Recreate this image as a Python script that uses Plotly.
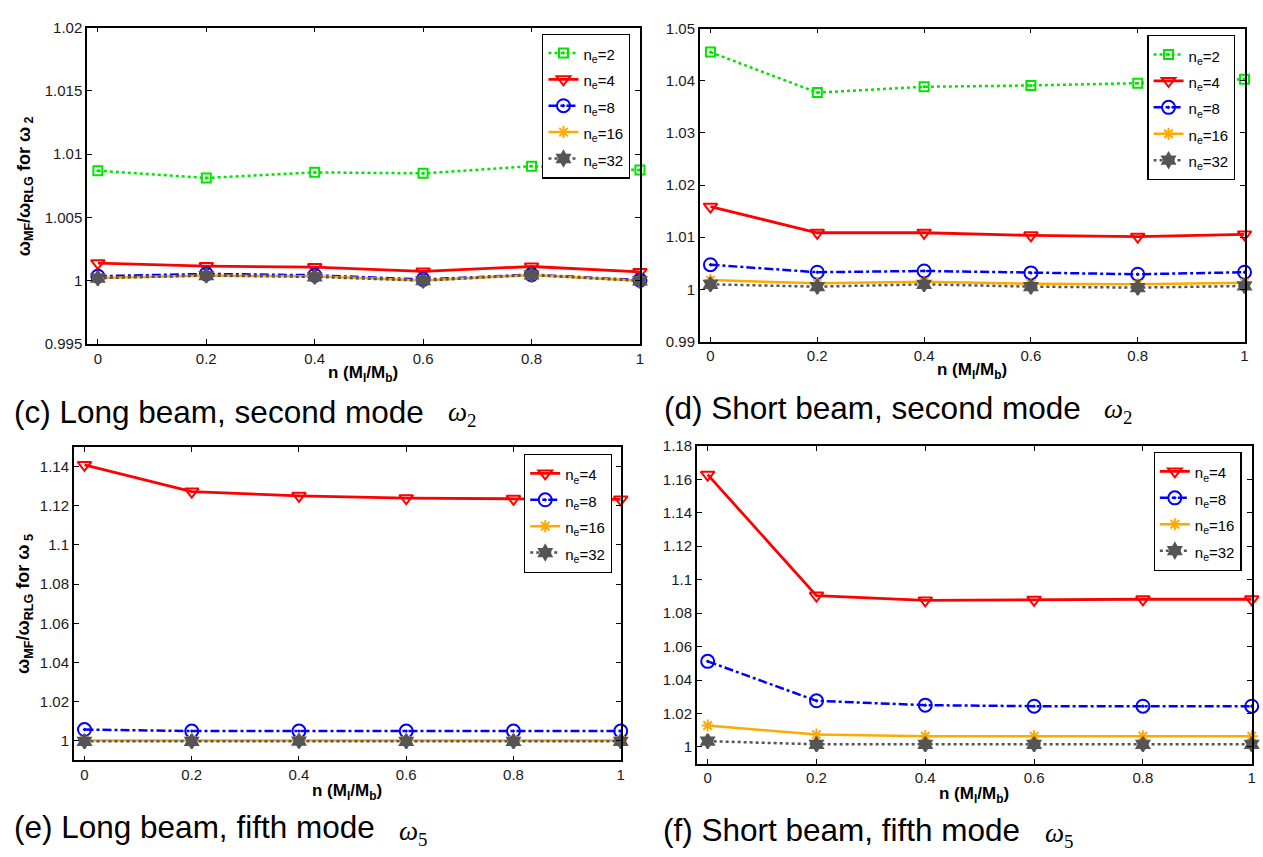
import plotly.graph_objects as go

# ---------------- data ----------------
n_vals = [0, 0.2, 0.4, 0.6, 0.8, 1]
x_ticks = [0, 0.2, 0.4, 0.6, 0.8, 1]
x_ticktext = ["0", "0.2", "0.4", "0.6", "0.8", "1"]

# (c) Long beam, second mode
c_ne2 = [1.00869, 1.00812, 1.00856, 1.00848, 1.00905, 1.00874]
c_ne4 = [1.00138, 1.00115, 1.00107, 1.00073, 1.00112, 1.00069]
c_ne8 = [1.00035, 1.00053, 1.00043, 1.00009, 1.00048, 1.00004]
c_ne16 = [1.00022, 1.00040, 1.00035, 1.00002, 1.00045, 1.00000]
c_ne32 = [1.00020, 1.00040, 1.00030, 1.00000, 1.00045, 0.99998]
c_yticks = [0.995, 1.0, 1.005, 1.01, 1.015, 1.02]
c_yticktext = ["0.995", "1", "1.005", "1.01", "1.015", "1.02"]

# (d) Short beam, second mode
d_ne2 = [1.04549, 1.03773, 1.03885, 1.03910, 1.03954, 1.04029]
d_ne4 = [1.01587, 1.01086, 1.01086, 1.01036, 1.01011, 1.01055]
d_ne8 = [1.00473, 1.00329, 1.00354, 1.00316, 1.00291, 1.00329]
d_ne16 = [1.00178, 1.00116, 1.00147, 1.00110, 1.00097, 1.00128]
d_ne32 = [1.00097, 1.00053, 1.00097, 1.00053, 1.00034, 1.00066]
d_yticks = [0.99, 1.0, 1.01, 1.02, 1.03, 1.04, 1.05]
d_yticktext = ["0.99", "1", "1.01", "1.02", "1.03", "1.04", "1.05"]

# (e) Long beam, fifth mode
e_ne4 = [1.1408, 1.1272, 1.1250, 1.1238, 1.1235, 1.1232]
e_ne8 = [1.0058, 1.0050, 1.0050, 1.0050, 1.0050, 1.0050]
e_ne16 = [1.0002, 1.0002, 1.0002, 1.0002, 1.0002, 1.0002]
e_ne32 = [0.9998, 0.9998, 0.9999, 0.9998, 0.9998, 0.9998]
e_yticks = [1.0, 1.02, 1.04, 1.06, 1.08, 1.1, 1.12, 1.14]
e_yticktext = ["1", "1.02", "1.04", "1.06", "1.08", "1.1", "1.12", "1.14"]

# (f) Short beam, fifth mode
f_ne4 = [1.1628, 1.0905, 1.0876, 1.0880, 1.0883, 1.0883]
f_ne8 = [1.0512, 1.0276, 1.0250, 1.0244, 1.0244, 1.0244]
f_ne16 = [1.0129, 1.0074, 1.0064, 1.0064, 1.0064, 1.0064]
f_ne32 = [1.0035, 1.0016, 1.0016, 1.0016, 1.0016, 1.0016]
f_yticks = [1.0, 1.02, 1.04, 1.06, 1.08, 1.1, 1.12, 1.14, 1.16, 1.18]
f_yticktext = ["1", "1.02", "1.04", "1.06", "1.08", "1.1", "1.12", "1.14", "1.16", "1.18"]

# ---------------- layout helpers ----------------
W, H = 1263, 857


def px(x):
    return x / W


def py(y):
    return 1 - y / H


SANS = "Arial, 'Liberation Sans', sans-serif"
SERIF = "'Times New Roman', 'Liberation Serif', serif"

styles = {
    2: dict(color="#00E400", dash="dot", symbol="square-open-dot", size=9, lw=2.5),
    4: dict(color="#FF0000", dash="solid", symbol="triangle-down-open", size=12, lw=2.8),
    8: dict(color="#0000FF", dash="dashdot", symbol="circle-open-dot", size=13, lw=2.5),
    16: dict(color="#FFAA00", dash="solid", symbol="asterisk-open", size=10, lw=2.5),
    32: dict(color="#555555", dash="dot", symbol="hexagram", size=11, lw=2.5),
}

fig = go.Figure()


def add_series(y, ne, axis_idx, legend_name):
    s = styles[ne]
    sfx = "" if axis_idx == 1 else str(axis_idx)
    mk = dict(symbol=s["symbol"], size=s["size"], color=s["color"],
              line=dict(color=s["color"], width=2))
    fig.add_trace(go.Scatter(
        x=n_vals, y=y, mode="lines+markers",
        name='<span style="font-size:15px">n<sub>e</sub>=%d</span>' % ne,
        line=dict(color=s["color"], dash=s["dash"], width=s["lw"]),
        marker=mk, cliponaxis=False,
        xaxis="x" + sfx, yaxis="y" + sfx, legend=legend_name,
    ))


for y, ne in [(c_ne2, 2), (c_ne4, 4), (c_ne8, 8), (c_ne16, 16), (c_ne32, 32)]:
    add_series(y, ne, 1, "legend")
for y, ne in [(d_ne2, 2), (d_ne4, 4), (d_ne8, 8), (d_ne16, 16), (d_ne32, 32)]:
    add_series(y, ne, 2, "legend2")
for y, ne in [(e_ne4, 4), (e_ne8, 8), (e_ne16, 16), (e_ne32, 32)]:
    add_series(y, ne, 3, "legend3")
for y, ne in [(f_ne4, 4), (f_ne8, 8), (f_ne16, 16), (f_ne32, 32)]:
    add_series(y, ne, 4, "legend4")

# panel pixel boxes: (left, right, top, bottom)
boxes = {
    1: (87.3, 642.0, 19.0, 341.7),
    2: (702.0, 1248.5, 20.0, 339.3),
    3: (74.0, 622.7, 446.7, 766.7),
    4: (699.0, 1255.7, 445.7, 770.0),
}
yranges = {1: [0.995, 1.02], 2: [0.99, 1.05], 3: [0.99, 1.15], 4: [0.99, 1.18]}
yt = {1: (c_yticks, c_yticktext), 2: (d_yticks, d_yticktext),
      3: (e_yticks, e_yticktext), 4: (f_yticks, f_yticktext)}

axis_common = dict(showline=True, linecolor="black", linewidth=1.5, mirror="ticks",
                   ticks="inside", ticklen=5, tickwidth=1, tickcolor="black",
                   showgrid=False, zeroline=False,
                   tickfont=dict(family=SANS, size=15, color="#1a1a1a"))

layout = dict(width=W, height=H, margin=dict(l=0, r=0, t=0, b=0),
              paper_bgcolor="white", plot_bgcolor="white", showlegend=True)

for i in range(1, 5):
    l, r, t, b = boxes[i]
    sfx = "" if i == 1 else str(i)
    layout["xaxis" + sfx] = dict(axis_common, domain=[px(l), px(r)], range=[-0.02, 1],
                                 tickvals=x_ticks, ticktext=x_ticktext,
                                 anchor="y" + sfx)
    layout["yaxis" + sfx] = dict(axis_common, domain=[py(b), py(t)], range=yranges[i],
                                 tickvals=yt[i][0], ticktext=yt[i][1],
                                 anchor="x" + sfx)

legend_common = dict(bgcolor="white", bordercolor="black", borderwidth=1.2,
                     font=dict(family=SANS, size=18, color="black"),
                     xanchor="left", yanchor="top", itemclick=False,
                     tracegroupgap=0)
legend_pos = {"legend": (544, 25), "legend2": (1151, 26.7),
              "legend3": (525.7, 454), "legend4": (1157.3, 452)}
for k, (lx, ly) in legend_pos.items():
    layout[k] = dict(legend_common, x=px(lx), y=py(ly))

fig.update_layout(**layout)

# axis titles
xtitle = "<b>n (M<sub>l</sub>/M<sub>b</sub>)</b>"
for (cx, cy) in [(364.5, 372), (975, 369), (348, 799), (977, 802)]:
    fig.add_annotation(text=xtitle, x=px(cx), y=py(cy), xref="paper", yref="paper",
                       xanchor="center", yanchor="middle", showarrow=False,
                       font=dict(family=SANS, size=17, color="black"))

for (cx, cy, m) in [(25, 181, "2"), (25, 607, "5")]:
    fig.add_annotation(text="<b>ω<sub>MF</sub>/ω<sub>RLG</sub> for ω<sub> %s</sub></b>" % m,
                       x=px(cx), y=py(cy), xref="paper", yref="paper",
                       xanchor="center", yanchor="middle", showarrow=False, textangle=-90,
                       font=dict(family=SANS, size=18, color="black"))

# captions
captions = [
    ("(c) Long beam, second mode", 11.7, 411, 447, 413, "2"),
    ("(d) Short beam, second mode", 664, 407, 1106, 410, "2"),
    ("(e) Long beam, fifth mode", 11.7, 835, 398, 841, "5"),
    ("(f) Short beam, fifth mode", 663, 838, 1046, 843, "5"),
]
for txt, tx, ty, ox, oy, sub in captions:
    fig.add_annotation(text=txt, x=px(tx), y=py(ty), xref="paper", yref="paper",
                       xanchor="left", yanchor="middle", showarrow=False,
                       font=dict(family=SANS, size=31.5, color="black"))
    fig.add_annotation(text="<i>ω</i><sub>%s</sub>" % sub, x=px(ox), y=py(oy),
                       xref="paper", yref="paper", xanchor="left", yanchor="middle",
                       showarrow=False, font=dict(family=SERIF, size=27, color="black"))

fig.write_html("out.html", config={"displayModeBar": False},
               post_script="document.body.style.margin='0';")
